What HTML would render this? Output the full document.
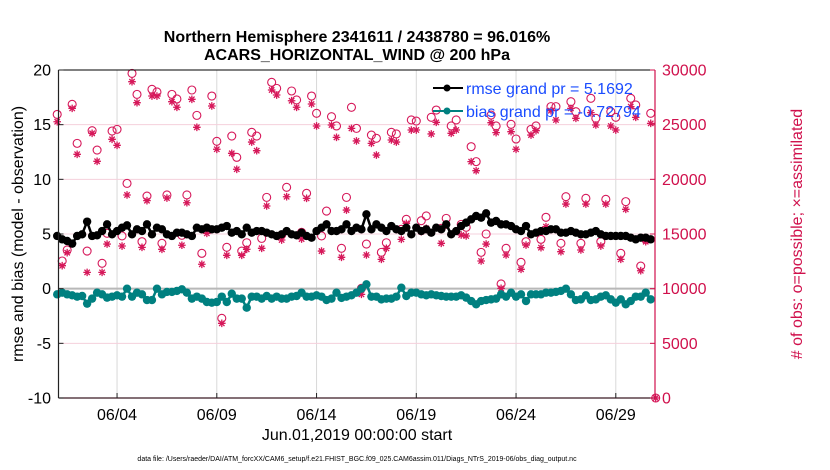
<!DOCTYPE html>
<html><head><meta charset="utf-8"><style>
html,body{margin:0;padding:0;background:#fff;}
svg{display:block;font-family:"Liberation Sans",Arial,sans-serif;}
</style></head><body>
<svg id="chart" width="830" height="470" viewBox="0 0 830 470" xmlns="http://www.w3.org/2000/svg">
<rect x="0" y="0" width="830" height="470" fill="#fff"/>
<text x="357" y="42" text-anchor="middle" font-size="16" font-weight="bold">Northern Hemisphere 2341611 / 2438780 = 96.016%</text>
<text x="357" y="60" text-anchor="middle" font-size="16" font-weight="bold">ACARS_HORIZONTAL_WIND @ 200 hPa</text>
<g id="grid"></g>
<g id="marks"></g>
<g id="axes"></g>
<text transform="translate(23,234) rotate(-90)" text-anchor="middle" font-size="16">rmse and bias (model - observation)</text>
<text transform="translate(802,234) rotate(-90)" text-anchor="middle" font-size="16" fill="#d0104c"># of obs: o=possible; ×=assimilated</text>
<text x="357" y="440" text-anchor="middle" font-size="16">Jun.01,2019 00:00:00 start</text>
<text x="357" y="461" text-anchor="middle" font-size="7">data file: /Users/raeder/DAI/ATM_forcXX/CAM6_setup/f.e21.FHIST_BGC.f09_025.CAM6assim.011/Diags_NTrS_2019-06/obs_diag_output.nc</text>
<g id="legend">
<line x1="433" y1="88" x2="463" y2="88" stroke="#000" stroke-width="2"/>
<circle cx="447" cy="88" r="3.5" fill="#000"/>
<text x="466" y="94" font-size="16" fill="#1a4cff">rmse grand pr = 5.1692</text>
<line x1="433" y1="111" x2="463" y2="111" stroke="#008080" stroke-width="2"/>
<circle cx="447" cy="111" r="3.5" fill="#008080"/>
<text x="466" y="117" font-size="16" fill="#1a4cff">bias grand pr = -0.72794</text>
</g>
</svg>
<script>
const rmse = [4.82,4.51,4.36,4.12,4.82,4.97,6.13,4.82,4.88,5.27,5.88,4.97,5.27,5.58,5.79,4.97,5.43,5.27,5.88,4.97,5.58,5.43,4.97,4.82,5.12,5.12,4.97,4.82,5.58,5.43,5.58,5.43,5.43,5.58,5.73,5.12,5.27,4.97,5.58,
5.12,5.27,5.27,5.12,4.97,4.82,4.97,5.27,4.97,4.88,5.12,4.82,4.66,5.27,5.58,5.88,5.27,5.27,5.43,5.88,5.27,5.58,5.43,6.80,5.43,5.88,5.58,5.27,5.73,5.43,5.27,5.58,4.97,5.58,5.27,5.43,5.12,5.58,5.43,5.88,
4.97,5.27,5.73,6.04,6.34,6.65,6.49,6.89,6.04,6.19,5.88,5.88,5.73,5.43,5.27,5.73,4.97,5.12,5.27,5.27,5.43,5.43,5.12,5.12,5.27,5.12,4.97,4.97,5.12,5.27,4.97,4.82,4.82,4.82,4.82,4.82,4.66,4.51,4.66,4.66,4.51,null];
const bias = [-0.52,-0.37,-0.52,-0.61,-0.73,-0.67,-1.37,-0.91,-0.37,-0.52,-0.82,-0.73,-0.61,-0.73,0,-0.73,-0.37,-0.52,-1.04,-1.04,0,-0.52,-0.30,-0.30,-0.21,-0.06,-0.37,-0.91,-0.73,-0.91,-1.22,-1.28,-1.22,-0.73,-1.22,-0.46,-0.91,-0.91,-1.74,
-0.73,-0.73,-0.91,-0.67,-0.91,-0.73,-0.91,-0.91,-0.73,-0.67,-0.37,-0.73,-0.73,-0.61,-0.73,-1.04,-0.91,-0.37,-0.85,-0.73,-0.61,-0.37,0,0.40,-0.73,-0.73,-0.98,-0.91,-0.91,-0.73,0.09,-0.67,-0.37,-0.37,-0.52,-0.61,-0.52,-0.61,-0.67,-0.73,
-0.73,-0.73,-0.61,-0.82,-1.13,-1.43,-1.13,-1.04,-0.98,-0.91,-0.52,-0.73,-0.37,-0.73,-0.52,-1.13,-0.52,-0.52,-0.52,-0.37,-0.37,-0.30,-0.21,0,-0.52,-1.04,-0.98,-0.61,-1.04,-0.98,-0.73,-0.61,-0.98,-1.28,-0.98,-1.43,-1.13,-0.73,-0.73,-0.37,-0.98,null];
const possible = [25940,12530,13540,26860,23290,null,13440,24450,22680,12320,15060,24420,24570,14820,19630,29690,27770,14300,18470,28230,27990,14150,18570,27770,27350,14880,18570,28170,25850,13230,15520,27620,23480,7290,13780,23960,22010,13440,14200,24300,23960,
14600,18350,28870,28320,14910,19270,28080,27260,15150,18720,27620,26040,14820,17100,25730,24880,13690,18350,26590,24660,10030,14080,24050,23750,13320,14200,24300,24150,15430,16340,25430,25330,16220,16650,25670,26340,15520,16430,24880,25430,
15880,15610,22990,21620,13320,15000,25880,24880,10430,13690,25030,23690,12410,14300,24570,24880,14510,16530,26650,26650,14150,18410,27100,26190,14150,18260,27410,25580,14300,18170,26190,25670,13230,17960,27410,26800,12070,14510,26040,0];
const assimilated = [25270,12100,13290,26490,22290,null,11490,24210,21650,11490,14080,23660,23110,13900,18570,28930,27010,13780,18050,27620,27620,13600,18290,27100,26590,13970,17860,27320,24760,12230,15060,26710,22750,6830,13050,22380,20920,13050,13600,23410,22620,
13690,17560,28170,27710,14450,18410,27190,26590,14540,18260,26890,24880,13440,15910,24970,23840,12870,17190,24660,23510,9480,13080,23290,22220,12680,13690,23600,23410,14510,15970,24510,24510,15210,15520,24150,25210,14150,15820,24210,24510,
14910,14820,21620,20790,12530,14080,25180,24270,10030,13080,24360,22750,11770,13990,24050,24450,13750,15670,26280,25430,13380,17740,26490,25580,13540,17740,26100,24970,13900,17740,24880,24510,12680,17260,26650,25670,11640,14300,25120,0];
const leftTicks = [-10,-5,0,5,10,15,20];
const rightTicks = [0,5000,10000,15000,20000,25000,30000];
const xTickDays = [3,8,13,18,23,28];
const xTickLabels = ["06/04","06/09","06/14","06/19","06/24","06/29"];
const stepDays = 0.25;

const PL=58.5, PR=655, PT=70, PB=398;
const X0=57.2, PXDAY=19.95;
function xs(d){return X0+d*PXDAY;}
function yl(v){return PB-(v+10)/30*(PB-PT);}
function yr(c){return PB-c/30000*(PB-PT);}
const NS="http://www.w3.org/2000/svg";
function mk(parent,tag,attrs){const e=document.createElementNS(NS,tag);for(const k in attrs)e.setAttribute(k,attrs[k]);parent.appendChild(e);return e;}
const grid=document.getElementById('grid'), marks=document.getElementById('marks'), axes=document.getElementById('axes');
const MAG="#d6185a", TEAL="#008080", RED="#d0104c";

xTickDays.forEach(d=>{
  const l=mk(grid,'line',{x1:xs(d),x2:xs(d),y1:PT,y2:PB,stroke:'#d8d8d8','stroke-width':1});
  
  
});
rightTicks.forEach(c=>{
  if(c===0||c===30000)return;
  const l=mk(grid,'line',{x1:PL,x2:PR,y1:yr(c),y2:yr(c),stroke:'#f5d0dc','stroke-width':1});
  
  
});
const z=mk(grid,'line',{x1:PL,x2:PR,y1:yl(0),y2:yl(0),stroke:'#b8b8b8','stroke-width':2});



possible.forEach((c,i)=>{
  if(c===null)return;
  const e=mk(marks,'circle',{cx:xs(i*stepDays),cy:yr(c),r:4,fill:'none',stroke:MAG,'stroke-width':1.1});
  
  
});
assimilated.forEach((c,i)=>{
  if(c===null)return;
  const x=xs(i*stepDays), y=yr(c), s=3.8, q=2.7;
  const e=mk(marks,'path',{d:`M${x-s},${y}H${x+s}M${x},${y-s}V${y+s}M${x-q},${y-q}L${x+q},${y+q}M${x-q},${y+q}L${x+q},${y-q}`,stroke:MAG,'stroke-width':1.3,fill:'none'});
  
  
});
function series(arr,color,name){
  let d='';arr.forEach((v,i)=>{if(v===null)return;d+=(d?'L':'M')+xs(i*stepDays).toFixed(1)+','+yl(v).toFixed(1);});
  const p=mk(marks,'path',{d:d,stroke:color,'stroke-width':2.5,fill:'none'});
  
  
  arr.forEach((v,i)=>{if(v===null)return;
    const c=mk(marks,'circle',{cx:xs(i*stepDays),cy:yl(v),r:4.2,fill:color});
    
    
  });
}
series(bias,TEAL,'bias');
series(rmse,'#000','rmse');

const fr=mk(axes,'path',{d:`M${PL},${PT}H${PR}`,stroke:'#000','stroke-width':1,fill:'none'});


const la=mk(axes,'line',{x1:PL,x2:PL,y1:PT,y2:PB,stroke:'#222','stroke-width':1.2});


const ba=mk(axes,'line',{x1:PL,x2:PR,y1:PB,y2:PB,stroke:'#3a1a24','stroke-width':1.2});


const ra=mk(axes,'line',{x1:PR,x2:PR,y1:PT,y2:PB,stroke:RED,'stroke-width':1.2});


leftTicks.forEach(v=>{
  mk(axes,'line',{x1:PL,x2:PL+5,y1:yl(v),y2:yl(v),stroke:'#222'});
  const t=mk(axes,'text',{x:51,y:yl(v)+5.5,'text-anchor':'end','font-size':16});
  t.textContent=String(v);
  
  
});
rightTicks.forEach(c=>{
  mk(axes,'line',{x1:PR-5,x2:PR,y1:yr(c),y2:yr(c),stroke:RED});
  const t=mk(axes,'text',{x:662,y:yr(c)+5.5,'font-size':16,fill:RED});
  t.textContent=String(c);
  
  
});
xTickDays.forEach((d,k)=>{
  mk(axes,'line',{x1:xs(d),x2:xs(d),y1:PB,y2:PB-5,stroke:'#222'});
  const t=mk(axes,'text',{x:xs(d),y:420,'text-anchor':'middle','font-size':16});
  t.textContent=xTickLabels[k];
  
  
});
</script>
</body></html>
